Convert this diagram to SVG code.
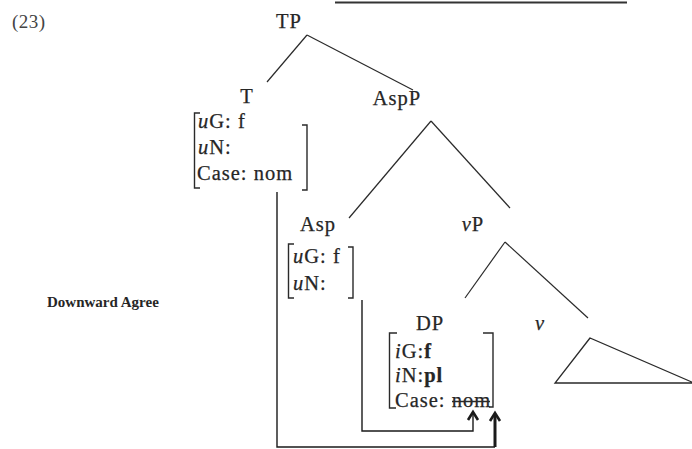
<svg xmlns="http://www.w3.org/2000/svg" width="692" height="449" viewBox="0 0 692 449">
<style>
.t{font-family:"Liberation Serif","Times New Roman",serif;font-size:20.5px;fill:#262626;letter-spacing:1px;stroke:#262626;stroke-width:0.25}
.lab{text-anchor:middle}
.b{font-family:"Liberation Serif","Times New Roman",serif;font-size:15px;font-weight:bold;fill:#262626}
.br{fill:none;stroke:#2a2a2a;stroke-width:1.4}
.tree line{stroke:#2a2a2a;stroke-width:1.2}
.conn path{fill:none;stroke:#1a1a1a;stroke-width:1.4}
</style>
<rect width="692" height="449" fill="#fff"/>
<line x1="335" y1="2.5" x2="627" y2="2.5" stroke="#333" stroke-width="2"/>
<text class="t" x="12" y="28" style="font-size:19px;letter-spacing:0.5px;fill:#444;stroke:none">(23)</text>
<text class="b" x="47" y="307">Downward Agree</text>

<g id="tree-lines" class="tree">
<line x1="307" y1="35" x2="267" y2="82"/>
<line x1="307" y1="35" x2="413" y2="90"/>
<line x1="431" y1="121" x2="349" y2="218"/>
<line x1="431" y1="121" x2="510" y2="208"/>
<line x1="505" y1="242" x2="465" y2="298"/>
<line x1="505" y1="242" x2="588" y2="318"/>
</g>

<g id="TP"><text class="t lab" x="289" y="28">TP</text></g>

<g id="T">
<text class="t lab" x="247" y="103">T</text>
<path class="br" d="M200,113 H194.5 V188 H200"/>
<path class="br" d="M302,125 H307 V190 H302"/>
<text class="t" x="198" y="128"><tspan font-style="italic">u</tspan>G: f</text>
<text class="t" x="198" y="154"><tspan font-style="italic">u</tspan>N:</text>
<text class="t" x="197" y="180">Case: nom</text>
</g>

<g id="AspP"><text class="t lab" x="397" y="105">AspP</text></g>

<g id="Asp">
<text class="t lab" x="318" y="231">Asp</text>
<path class="br" d="M294,244 H288.5 V298 H294"/>
<path class="br" d="M348,247 H353 V298 H348"/>
<text class="t" x="293" y="263"><tspan font-style="italic">u</tspan>G: f</text>
<text class="t" x="293" y="290"><tspan font-style="italic">u</tspan>N:</text>
</g>

<g id="vP"><text class="t lab" x="473" y="231"><tspan font-style="italic">v</tspan>P</text></g>

<g id="DP">
<text class="t lab" x="430" y="330">DP</text>
<path class="br" d="M397,333 H389.5 V408 H396"/>
<path class="br" d="M483,333 H493 V407 H489"/>
<text class="t" x="395" y="358"><tspan font-style="italic">i</tspan>G:<tspan font-weight="bold">f</tspan></text>
<text class="t" x="395" y="382"><tspan font-style="italic">i</tspan>N:<tspan font-weight="bold">pl</tspan></text>
<text class="t" x="395" y="407">Case: nom</text>
<line x1="452" y1="401.5" x2="490" y2="401.5" stroke="#2a2a2a" stroke-width="1.3"/>
</g>

<g id="v"><text class="t lab" x="540" y="330"><tspan font-style="italic">v</tspan></text></g>

<g id="triangle">
<path d="M590,338 L555,383 H694 Z" fill="none" stroke="#2a2a2a" stroke-width="1.3"/>
</g>

<g id="connectors" class="conn">
<path d="M277,192 V447 H495"/>
<path d="M495,447 V414" style="stroke-width:3"/>
<path d="M490,421 L495,413 L500,421" style="stroke-width:2.6"/>
<path d="M362,300 V431 H473 V413"/>
<path d="M468,420 L473,412 L478,420" style="stroke-width:2.6"/>
</g>
</svg>
